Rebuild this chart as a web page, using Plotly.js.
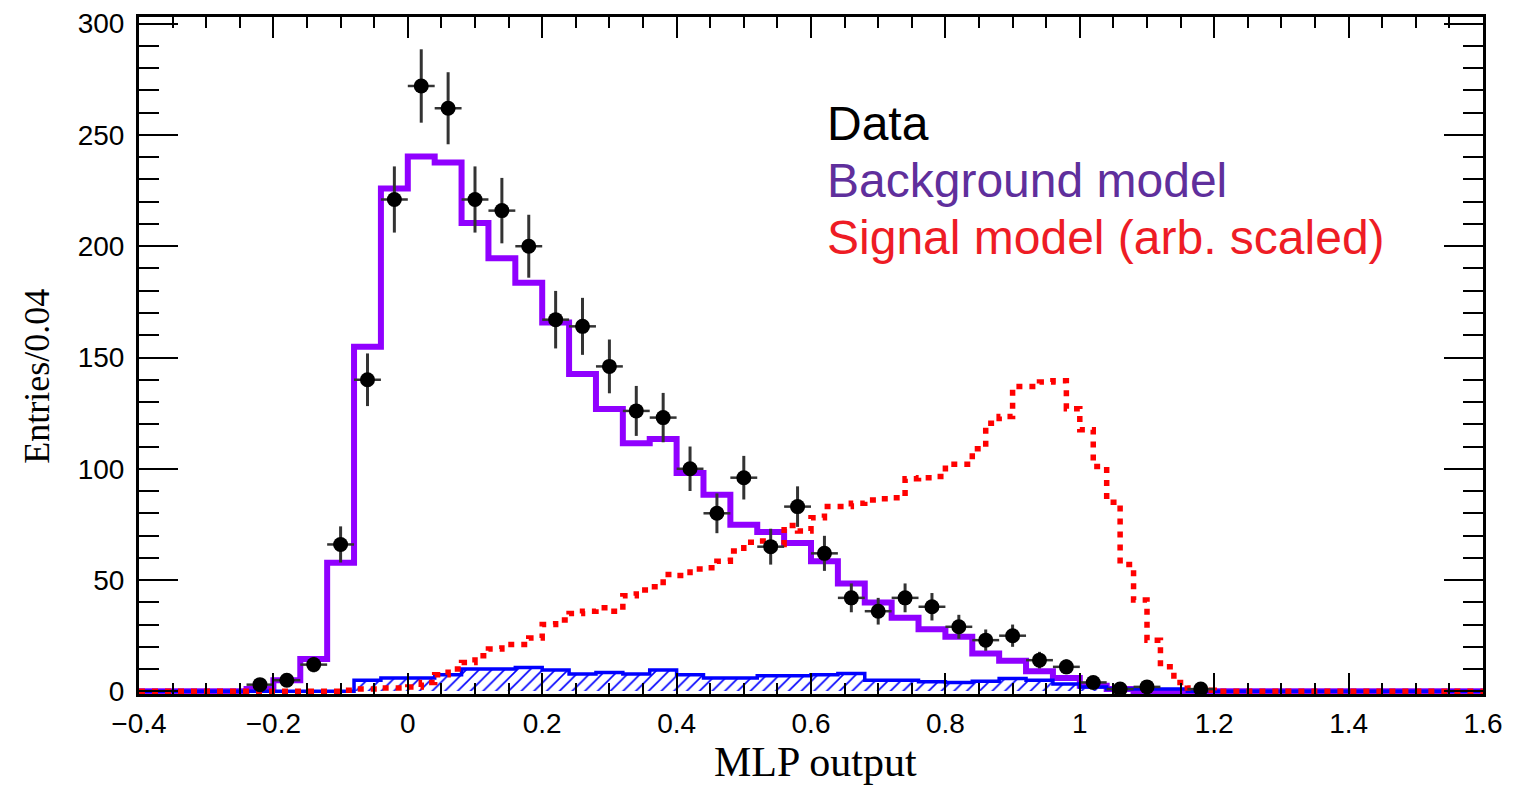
<!DOCTYPE html>
<html>
<head>
<meta charset="utf-8">
<script src="https://cdn.plot.ly/plotly-3.0.1.min.js"></script>
<style>html,body{margin:0;padding:0;background:#fff;}#chart{width:1537px;height:791px;}</style>
</head>
<body>
<div id="chart"></div>
<script>
// ---- Data ----
// Observed data (bin centres, 0.04 wide bins) and counts
const dataX = [-0.22,-0.18,-0.14,-0.10,-0.06,-0.02,0.02,0.06,0.10,0.14,0.18,0.22,0.26,0.30,0.34,0.38,0.42,0.46,0.50,0.54,0.58,0.62,0.66,0.70,0.74,0.78,0.82,0.86,0.90,0.94,0.98,1.02,1.06,1.10,1.18];
const dataY = [3,5,12,66,140,221,272,262,221,216,200,167,164,146,126,123,100,80,96,65,83,62,42,36,42,38,29,23,25,14,11,4,1,2,1];

// Background model (purple step histogram), bin centres (0.04 bins)
const bkgX = [-0.40,-0.26,-0.22,-0.18,-0.14,-0.10,-0.06,-0.02,0.02,0.06,0.10,0.14,0.18,0.22,0.26,0.30,0.34,0.38,0.42,0.46,0.50,0.54,0.58,0.62,0.66,0.70,0.74,0.78,0.82,0.86,0.90,0.94,0.98,1.02,1.06,1.10,1.60];
const bkgY = [0,0,1,5,14.5,57.8,154.8,225.9,240.3,237.6,210.4,194.6,183.6,165.7,142.6,126.9,111.5,113.4,98.1,88.3,74.9,71.6,66.7,58.5,48.5,39.9,33.1,27.9,24.5,17,13.7,9,6,2.5,1,0,0];

// Small hatched (blue) component, bin centres (0.04 bins)
const hatchX = [-0.06,-0.02,0.02,0.06,0.10,0.14,0.18,0.22,0.26,0.30,0.34,0.38,0.42,0.46,0.50,0.54,0.58,0.62,0.66,0.70,0.74,0.78,0.82,0.86,0.90,0.94,0.98,1.02,1.06,1.10,1.14];
const hatchY = [5,6,6,7.5,10,10,10.7,9.6,7.8,8.5,7.8,9.6,7.5,6,6,7,7,7.5,8,5,5,4.3,4,4.5,5.8,5,3.3,2,1,1,1];

// Signal model (red dotted step histogram), bin centres (0.02 bins)
const sigX = [-0.40,-0.11,-0.09,-0.07,-0.05,-0.03,-0.01,0.01,0.03,0.05,0.07,0.09,0.11,0.13,0.15,0.17,0.19,0.21,0.23,0.25,0.27,0.29,0.31,0.33,0.35,0.37,0.39,0.41,0.43,0.45,0.47,0.49,0.51,0.53,0.55,0.57,0.59,0.61,0.63,0.65,0.67,0.69,0.71,0.73,0.75,0.77,0.79,0.81,0.83,0.85,0.87,0.89,0.91,0.93,0.95,0.97,0.99,1.01,1.03,1.05,1.07,1.09,1.11,1.13,1.15,1.17,1.19,1.21,1.60];
const sigY = [0,0,0.5,1,1,1.5,1.5,2,4,7.5,10,13,16,19,21,21,24,30,32,35,36,37.5,36,43,45.5,47,52.5,52,55,55.5,58.5,63,67,67.5,66,74.5,72,78,83,83,84.5,86,86.5,87,95.5,96,96.5,102,102,109,120.5,123.5,137,137,139,139.5,127,117.5,101,85,57,41,23,11,4,1.5,0.5,0,0];

// Tails of the hatched outline along the baseline
const hatchLineX = [-0.40,-0.10].concat(hatchX, [1.18,1.60]);
const hatchLineY = [0,0].concat(hatchY, [0,0]);

// Axis ranges
const xRange = [-0.4, 1.6];
const yRange = [-1.2, 303];

// Legend texts
const legendTexts = ["Data", "Background model", "Signal model (arb. scaled)"];
const legendColors = ["#000000", "#5f2f9c", "#ee1c25"];

const traces = [
  { // purple background model
    type: 'scatter', mode: 'lines', x: bkgX, y: bkgY,
    line: {shape: 'hvh', color: '#9000ff', width: 6},
    hoverinfo: 'skip'
  },
  { // hatched bars
    type: 'bar', x: hatchX, y: hatchY, width: 0.04,
    marker: {color: 'rgba(255,255,255,0)', line: {width: 0},
             pattern: {shape: '/', fgcolor: '#0000ff', bgcolor: 'rgba(255,255,255,0)', size: 9, solidity: 0.18}},
    hoverinfo: 'skip'
  },
  { // hatched outline
    type: 'scatter', mode: 'lines', x: hatchLineX, y: hatchLineY,
    line: {shape: 'hvh', color: '#0000ff', width: 3.5},
    hoverinfo: 'skip'
  },
  { // signal dotted
    type: 'scatter', mode: 'lines', x: sigX, y: sigY,
    line: {shape: 'hvh', color: '#ff0000', width: 5.5, dash: '6px,7px'},
    hoverinfo: 'skip'
  },
  { // data points
    type: 'scatter', mode: 'markers', x: dataX, y: dataY,
    marker: {color: '#000', size: 15, symbol: 'circle'},
    error_y: {type: 'sqrt', color: '#333', thickness: 3, width: 0},
    error_x: {type: 'constant', value: 0.02, color: '#333', thickness: 2.5, width: 0},
    hoverinfo: 'skip'
  }
];

const tickFont = {family: '"Liberation Sans", Arial, Helvetica, sans-serif', size: 28, color: '#000'};
const serif = '"Liberation Serif", "Times New Roman", Times, serif';

const annotations = [
  {text: 'MLP output', xref: 'paper', yref: 'paper', x: 0.503, y: -0.101, xanchor: 'center', yanchor: 'middle',
   showarrow: false, font: {family: serif, size: 42, color: '#000'}},
  {text: 'Entries/0.04', xref: 'paper', yref: 'paper', x: -0.0759, y: 0.47, xanchor: 'center', yanchor: 'middle',
   textangle: -90, showarrow: false, font: {family: serif, size: 36, color: '#000'}}
];
const legY = [0.843, 0.759, 0.675];
legendTexts.forEach((t, i) => {
  annotations.push({text: t, xref: 'paper', yref: 'paper', x: 0.5105, y: legY[i], xanchor: 'left', yanchor: 'middle',
    showarrow: false, font: {family: '"Liberation Sans", Arial, Helvetica, sans-serif', size: 48, color: legendColors[i]}});
});

const layout = {
  width: 1537, height: 791,
  margin: {l: 139, r: 54, t: 17, b: 97, pad: 0},
  paper_bgcolor: '#fff', plot_bgcolor: '#fff',
  showlegend: false, bargap: 0, barmode: 'overlay',
  xaxis: {
    range: xRange, tick0: 0, dtick: 0.2, ticks: 'inside', ticklen: 21, tickwidth: 2, tickcolor: '#000',
    showline: true, linecolor: '#000', linewidth: 3, mirror: 'ticks',
    showgrid: false, zeroline: false, tickfont: tickFont, ticklabelstandoff: 2,
    minor: {dtick: 0.05, tick0: 0, ticks: 'inside', ticklen: 11, tickwidth: 2, tickcolor: '#000', showgrid: false}
  },
  yaxis: {
    range: yRange, tick0: 0, dtick: 50, ticks: 'inside', ticklen: 39, tickwidth: 2, tickcolor: '#000',
    showline: true, linecolor: '#000', linewidth: 3, mirror: 'ticks',
    showgrid: false, zeroline: false, tickfont: tickFont, ticklabelstandoff: 6,
    minor: {dtick: 10, tick0: 0, ticks: 'inside', ticklen: 20, tickwidth: 2, tickcolor: '#000', showgrid: false}
  },
  annotations: annotations
};

Plotly.newPlot('chart', traces, layout, {staticPlot: true, displayModeBar: false});
</script>
</body>
</html>
